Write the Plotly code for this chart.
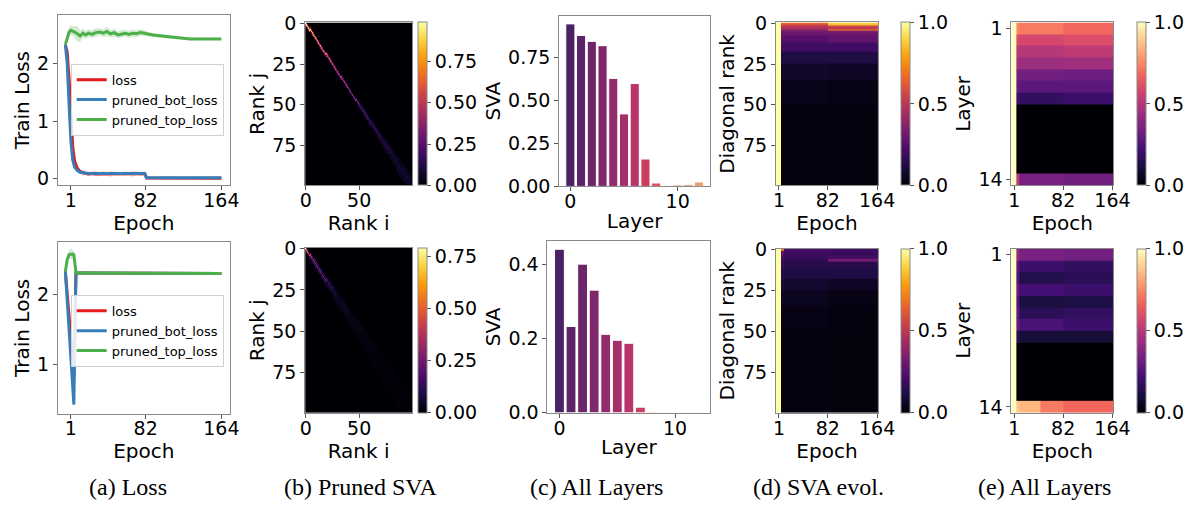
import numpy as np
import plotly.graph_objects as go

W, H = 1201, 511

# ---------------- data: (a) loss curves ----------------
epochs_a1 = [-5, -3, -1, 1, 3, 5, 8, 11, 14, 17, 20, 24, 28, 32, 36, 40, 44, 48, 52, 56,
             60, 64, 68, 72, 76, 81, 83, 90, 100, 110, 120, 130, 140, 150, 164]
top_a1 = [2.33, 2.45, 2.55, 2.58, 2.57, 2.55, 2.52, 2.48, 2.53, 2.50, 2.53, 2.51, 2.54, 2.55,
          2.53, 2.56, 2.52, 2.54, 2.50, 2.52, 2.53, 2.51, 2.53, 2.52, 2.54, 2.53, 2.52, 2.50,
          2.48, 2.46, 2.44, 2.43, 2.43, 2.43, 2.43]
top_a1_sd = [0.02, 0.06, 0.08, 0.08, 0.08, 0.10, 0.14, 0.10, 0.08, 0.07, 0.07, 0.07, 0.08, 0.06,
             0.07, 0.08, 0.06, 0.07, 0.06, 0.07, 0.06, 0.06, 0.07, 0.06, 0.06, 0.05, 0.04, 0.03,
             0.03, 0.03, 0.02, 0.02, 0.02, 0.02, 0.02]
loss_a1 = [2.33, 2.20, 1.75, 1.05, 0.55, 0.30, 0.18, 0.12, 0.10, 0.09, 0.08, 0.09, 0.08, 0.08,
           0.09, 0.08, 0.08, 0.09, 0.08, 0.08, 0.09, 0.08, 0.08, 0.09, 0.08, 0.09, 0.01, 0.01,
           0.005, 0.005, 0.005, 0.005, 0.005, 0.005, 0.005]
loss_a1_sd = [0.01, 0.03, 0.05, 0.05, 0.05, 0.04, 0.04, 0.04, 0.05, 0.03, 0.04, 0.03, 0.05, 0.03,
              0.04, 0.03, 0.05, 0.03, 0.04, 0.03, 0.04, 0.03, 0.05, 0.03, 0.04, 0.03, 0.01, 0.005,
              0.005, 0.005, 0.005, 0.005, 0.005, 0.005, 0.005]
bot_a1 = [2.33, 2.00, 1.30, 0.65, 0.32, 0.20, 0.14, 0.11, 0.10, 0.09, 0.09, 0.09, 0.09, 0.09,
          0.09, 0.09, 0.09, 0.09, 0.09, 0.09, 0.09, 0.09, 0.09, 0.09, 0.09, 0.09, 0.015, 0.015,
          0.015, 0.015, 0.015, 0.015, 0.015, 0.015, 0.015]

epochs_a2 = [-5, -3, -1, 1, 3, 4.2, 5.3, 6.5, 9, 20, 40, 82, 120, 164]
top_a2 = [2.33, 2.50, 2.57, 2.58, 2.58, 2.57, 2.45, 2.31, 2.31, 2.31, 2.31, 2.30, 2.30, 2.30]
top_a2_sd = [0.02, 0.05, 0.06, 0.08, 0.06, 0.05, 0.03, 0.02, 0.01, 0.01, 0.01, 0.01, 0.01, 0.01]
bot_a2 = [2.33, 1.90, 1.45, 1.05, 0.65, 0.43, 1.40, 2.31, 2.31, 2.31, 2.31, 2.30, 2.30, 2.30]
loss_a2 = [2.33, 2.05, 1.70, 1.35, 0.95, 0.80, 1.60, 2.31, 2.31, 2.31, 2.31, 2.30, 2.30, 2.30]
epoch_ticks = [1, 82, 164]

# ---------------- data: (b) pruned SVA matrices (rank blocks) ----------------
rank_edges_b = [0, 1, 3, 6, 10, 15, 20, 25, 30, 40, 50, 60, 70, 80, 90, 100]
diag_b1 = [0.97, 0.92, 0.87, 0.80, 0.72, 0.66, 0.60, 0.55, 0.48, 0.38, 0.28, 0.20, 0.15, 0.12, 0.10]
band_b1 = [1, 1, 1, 1, 1, 1, 1, 1, 1, 1, 2, 2, 3, 4, 5]
off_b1 = [0.5, 0.45, 0.4, 0.35, 0.3, 0.28, 0.25, 0.22, 0.18, 0.12, 0.08, 0.07, 0.06, 0.05, 0.05]
diag_b2 = [0.79, 0.55, 0.40, 0.32, 0.28, 0.24, 0.16, 0.10, 0.06, 0.03, 0.02, 0.015, 0.012, 0.01, 0.01]
band_b2 = [1, 1, 1, 2, 2, 2, 3, 3, 4, 5, 6, 7, 8, 9, 10]
off_b2 = [0.3, 0.2, 0.15, 0.12, 0.10, 0.08, 0.06, 0.04, 0.03, 0.02, 0.012, 0.01, 0.008, 0.006, 0.006]

# ---------------- data: (c) SVA per layer ----------------
layers = list(range(13))
sva_c1 = [0.948, 0.88, 0.846, 0.821, 0.63, 0.423, 0.60, 0.16, 0.02, 0.005, 0.008, 0.01, 0.026]
sva_c2 = [0.44, 0.232, 0.40, 0.33, 0.211, 0.195, 0.187, 0.015, 0.002, 0.001, 0.001, 0.001, 0.001]
bar_colors = ["#4b2166", "#5c2368", "#6d266a", "#7f296c", "#922c6c", "#a52f6b", "#b93468",
              "#cc3d62", "#da4c5c", "#e35f58", "#e77358", "#ea8760", "#ec9c6e"]

# ---------------- data: (d) SVA evolution (rank blocks x epoch bins) ----------------
rank_edges_d = [0, 1, 2, 3, 4, 5, 6, 8, 12, 18, 25, 35, 50, 100]
epoch_edges_d1 = [-4, 4, 82, 165.5]
d1_init = [1.0] * 13
d1_pre = [0.65, 0.55, 0.50, 0.45, 0.40, 0.32, 0.30, 0.25, 0.20, 0.12, 0.07, 0.04, 0.02]
d1_post = [0.88, 0.85, 0.55, 0.50, 0.72, 0.35, 0.30, 0.28, 0.20, 0.12, 0.06, 0.03, 0.02]
epoch_edges_d2 = [-4, 4, 10, 82, 165.5]
d2_init = [1.0] * 13
d2_early = [0.70, 0.30, 0.28, 0.25, 0.22, 0.20, 0.20, 0.17, 0.14, 0.10, 0.06, 0.03, 0.02]
d2_pre = [0.22, 0.20, 0.20, 0.18, 0.18, 0.18, 0.16, 0.14, 0.12, 0.08, 0.05, 0.03, 0.02]
d2_post = [0.20, 0.20, 0.18, 0.18, 0.20, 0.20, 0.32, 0.14, 0.12, 0.06, 0.03, 0.02, 0.015]

# ---------------- data: (e) SVA per layer over epochs ----------------
layer_ids = list(range(1, 15))
epoch_edges_e1 = [-4, 4, 10, 82, 165.5]
e1_init = [1.0] * 14
e1_early = [0.75, 0.60, 0.50, 0.45, 0.35, 0.30, 0.20, 0, 0, 0, 0, 0, 0, 0.50]
e1_pre = [0.72, 0.58, 0.50, 0.44, 0.33, 0.28, 0.18, 0, 0, 0, 0, 0, 0, 0.35]
e1_post = [0.68, 0.60, 0.52, 0.45, 0.32, 0.28, 0.20, 0, 0, 0, 0, 0, 0, 0.33]
epoch_edges_e2 = [-4, 4, 10, 45, 82, 165.5]
e2_init = [1.0] * 14
e2_early = [0.40, 0.28, 0.25, 0.30, 0.25, 0.28, 0.30, 0.15, 0, 0, 0, 0, 0, 0.88]
e2_pre_a = [0.35, 0.20, 0.14, 0.22, 0.12, 0.16, 0.24, 0.10, 0, 0, 0, 0, 0, 0.85]
e2_pre_b = [0.35, 0.20, 0.14, 0.22, 0.12, 0.16, 0.24, 0.10, 0, 0, 0, 0, 0, 0.72]
e2_post = [0.33, 0.18, 0.16, 0.20, 0.13, 0.18, 0.20, 0.10, 0, 0, 0, 0, 0, 0.68]

captions = ["(a) Loss", "(b) Pruned SVA", "(c) All Layers", "(d) SVA evol.", "(e) All Layers"]
caption_x = [124, 362, 602, 828, 1059]


# ---------------- helpers ----------------
def band_matrix(edges, diag, band, off):
    n = edges[-1]
    M = np.zeros((n, n))
    for k in range(len(diag)):
        for j in range(edges[k], edges[k + 1]):
            for i in range(max(0, j - band[k]), min(n, j + band[k] + 1)):
                M[j, i] = diag[k] if i == j else off[k]
    return M


def block_matrix(edges, cols):
    n = edges[-1]
    M = np.zeros((n, len(cols)))
    for c, col in enumerate(cols):
        for k in range(len(col)):
            M[edges[k]:edges[k + 1], c] = col[k]
    return M


def px(x):
    return x / W


def py(y):
    return 1 - y / H


FONT = "DejaVu Sans"
TICK = dict(family=FONT, size=19, color="black")
TITLE = dict(family=FONT, size=20, color="black")
SPINE = "#8a8a8a"

fig = go.Figure()
layout = dict(width=W, height=H, margin=dict(l=0, r=0, t=0, b=0),
              paper_bgcolor="white", plot_bgcolor="white",
              font=dict(family=FONT, color="black"), showlegend=True)

# domains: (x0, x1, y0, y1) in pixels
doms = {
    1: (53, 228, 5, 183), 2: (305, 414, 13, 183), 3: (564, 718, 6, 184),
    4: (785, 889, 13, 183), 5: (1025, 1129, 13, 183),
    6: (53, 228, 242, 421), 7: (305, 414, 248, 420), 8: (552, 718, 241, 420),
    9: (785, 889, 249, 420), 10: (1025, 1129, 249, 420),
}


def set_axes(i, xkw, ykw):
    x0, x1, y0, y1 = doms[i]
    sfx = "" if i == 1 else str(i)
    base = dict(showline=True, mirror=True, linecolor=SPINE, linewidth=1,
                ticks="outside", ticklen=4, tickcolor="#555", tickfont=TICK,
                showgrid=False, zeroline=False)
    xa = dict(base, domain=[px(x0), px(x1)], anchor="y" + sfx, ticklabelstandoff=-6)
    xa.update(xkw)
    ya = dict(base, domain=[py(y1), py(y0)], anchor="x" + sfx)
    ya.update(ykw)
    layout["xaxis" + sfx] = xa
    layout["yaxis" + sfx] = ya
    return "x" + sfx, "y" + sfx


def ttl(t, s=2):
    return dict(text=t, font=TITLE, standoff=s)


RED, BLUE, GREEN = "#e41a1c", "#377eb8", "#4daf4a"

# ---------------- (a) ----------------
for row, (ep, top, tsd, loss, lsd, bot, yr, yt, leg) in enumerate([
        (epochs_a1, top_a1, top_a1_sd, loss_a1, loss_a1_sd, bot_a1, [-0.12, 2.85], [0, 1, 2], "legend"),
        (epochs_a2, top_a2, top_a2_sd, loss_a2, None, bot_a2, [0.3, 2.75], [1, 2], "legend2")]):
    idx = 1 if row == 0 else 6
    xr, yr_ = set_axes(idx, dict(range=[-13, 173], tickvals=epoch_ticks, title=ttl("Epoch")),
                       dict(range=yr, tickvals=yt, title=ttl("Train Loss")))
    if lsd is not None:
        up = [a + b for a, b in zip(loss, lsd)]
        lo = [a - b for a, b in zip(loss, lsd)]
        fig.add_trace(go.Scatter(x=ep + ep[::-1], y=up + lo[::-1], fill="toself",
                                 fillcolor="rgba(228,26,28,0.2)", line=dict(width=0),
                                 showlegend=False, hoverinfo="skip", xaxis=xr, yaxis=yr_))
    up = [a + b for a, b in zip(top, tsd)]
    lo = [a - b for a, b in zip(top, tsd)]
    fig.add_trace(go.Scatter(x=ep + ep[::-1], y=up + lo[::-1], fill="toself",
                             fillcolor="rgba(77,175,74,0.25)", line=dict(width=0),
                             showlegend=False, hoverinfo="skip", xaxis=xr, yaxis=yr_))
    fig.add_trace(go.Scatter(x=ep, y=loss, mode="lines", name="loss", line=dict(color=RED, width=3),
                             xaxis=xr, yaxis=yr_, legend=leg))
    fig.add_trace(go.Scatter(x=ep, y=bot, mode="lines", name="pruned_bot_loss",
                             line=dict(color=BLUE, width=3), xaxis=xr, yaxis=yr_, legend=leg))
    fig.add_trace(go.Scatter(x=ep, y=top, mode="lines", name="pruned_top_loss",
                             line=dict(color=GREEN, width=3), xaxis=xr, yaxis=yr_, legend=leg))

legbase = dict(bgcolor="rgba(255,255,255,0.85)", bordercolor="#d0d0d0", borderwidth=1,
               font=dict(family=FONT, size=13, color="black"), xanchor="left", yanchor="top",
               itemwidth=30, tracegroupgap=0, yref="paper", xref="paper")
layout["legend"] = dict(legbase, x=px(66), y=py(56))
layout["legend2"] = dict(legbase, x=px(66), y=py(297))


def cbar(x, y0, y1, tv, tt):
    return dict(x=px(x), xanchor="left", y=py(y0), yanchor="top", len=(y1 - y0) / H,
                lenmode="fraction", thickness=9, thicknessmode="pixels", xpad=0, ypad=0,
                outlinewidth=1, outlinecolor=SPINE, ticks="outside", ticklen=4,
                tickcolor="#555", tickvals=tv, ticktext=tt, tickfont=TICK)


# ---------------- (b) ----------------
ranks = list(range(100))
for row, (diag, band, off, cmax) in enumerate([(diag_b1, band_b1, off_b1, 0.985),
                                               (diag_b2, band_b2, off_b2, 0.79)]):
    idx = 2 if row == 0 else 7
    xr, yr_ = set_axes(idx, dict(range=[-0.5, 99.5], tickvals=[0, 50], title=ttl("Rank i")),
                       dict(range=[99.5, -0.5], tickvals=[0, 25, 50, 75], title=ttl("Rank j")))
    ca = "coloraxis" if row == 0 else "coloraxis2"
    fig.add_trace(go.Heatmap(z=band_matrix(rank_edges_b, diag, band, off), x=ranks, y=ranks,
                             coloraxis=ca, xaxis=xr, yaxis=yr_))
    y0, y1 = doms[idx][2], doms[idx][3]
    layout[ca] = dict(colorscale="Inferno", cmin=0, cmax=cmax,
                      colorbar=cbar(420, y0, y1, [0, 0.25, 0.5, 0.75], ["0.00", "0.25", "0.50", "0.75"]))

# ---------------- (c) ----------------
for row, (vals, yt, ytt) in enumerate([
        (sva_c1, [0, 0.25, 0.5, 0.75], ["0.00", "0.25", "0.50", "0.75"]),
        (sva_c2, [0, 0.2, 0.4], ["0.0", "0.2", "0.4"])]):
    idx = 3 if row == 0 else 8
    xr, yr_ = set_axes(idx, dict(range=[-1.04, 13.04], tickvals=[0, 10], title=ttl("Layer")),
                       dict(range=[0, max(vals) * 1.05], tickvals=yt, ticktext=ytt, title=ttl("SVA")))
    fig.add_trace(go.Bar(x=layers, y=vals, width=0.85, marker=dict(color=bar_colors, line=dict(color="white", width=1)),
                         showlegend=False, xaxis=xr, yaxis=yr_))

# ---------------- (d) ----------------
for row, (edges, cols) in enumerate([
        (epoch_edges_d1, [d1_init, d1_pre, d1_post]),
        (epoch_edges_d2, [d2_init, d2_early, d2_pre, d2_post])]):
    idx = 4 if row == 0 else 9
    xr, yr_ = set_axes(idx, dict(range=[-4, 165.5], tickvals=epoch_ticks, title=ttl("Epoch")),
                       dict(range=[99.5, -0.5], tickvals=[0, 25, 50, 75], title=ttl("Diagonal rank")))
    ca = "coloraxis3" if row == 0 else "coloraxis4"
    fig.add_trace(go.Heatmap(z=block_matrix(rank_edges_d, cols), x=edges, y=ranks,
                             coloraxis=ca, xaxis=xr, yaxis=yr_))
    y0, y1 = doms[idx][2], doms[idx][3]
    layout[ca] = dict(colorscale="Inferno", cmin=0, cmax=1,
                      colorbar=cbar(912, y0, y1, [0, 0.5, 1], ["0.0", "0.5", "1.0"]))

# ---------------- (e) ----------------
for row, (edges, cols) in enumerate([
        (epoch_edges_e1, [e1_init, e1_early, e1_pre, e1_post]),
        (epoch_edges_e2, [e2_init, e2_early, e2_pre_a, e2_pre_b, e2_post])]):
    idx = 5 if row == 0 else 10
    xr, yr_ = set_axes(idx, dict(range=[-4, 165.5], tickvals=epoch_ticks, title=ttl("Epoch")),
                       dict(range=[14.5, 0.5], tickvals=[1, 14], title=ttl("Layer")))
    ca = "coloraxis5" if row == 0 else "coloraxis6"
    z = np.array(cols).T
    fig.add_trace(go.Heatmap(z=z, x=edges, y=layer_ids, coloraxis=ca, xaxis=xr, yaxis=yr_))
    y0, y1 = doms[idx][2], doms[idx][3]
    layout[ca] = dict(colorscale="Magma", cmin=0, cmax=1,
                      colorbar=cbar(1153, y0, y1, [0, 0.5, 1], ["0.0", "0.5", "1.0"]))

# ---------------- captions ----------------
layout["annotations"] = [dict(text=t, x=px(cx), y=py(497), xref="paper", yref="paper",
                              xanchor="center", yanchor="middle", showarrow=False,
                              font=dict(family="Liberation Serif", size=24, color="black"))
                         for t, cx in zip(captions, caption_x)]

fig.update_layout(**layout)
fig.write_html("out.html")
